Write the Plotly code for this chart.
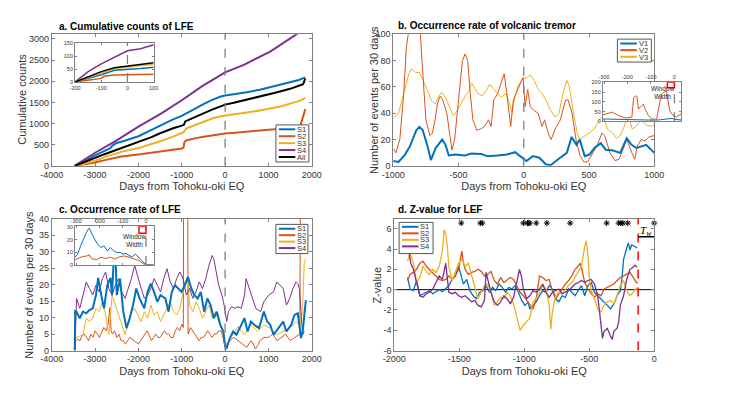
import plotly.graph_objects as go

W, H = 738, 399
BLUE = "#0072BD"
ORANGE = "#D95319"
YELLOW = "#EDB120"
PURPLE = "#7E2F8E"
BLACK = "#000000"
AXC = "#808080"
TXT = "#333333"
FONT = "Liberation Sans, Arial, Helvetica, sans-serif"

# ---------------- a. cumulative counts of LFE ----------------
a_s1_x = [-3470, -3200, -3000, -2800, -2650, -2600, -2500, -2300, -2000, -1700, -1500, -1200, -1000,
          -700, -500, -300, -100, 0, 200, 500, 800, 1000, 1200, 1500, 1700, 1850]
a_s1_y = [0, 130, 250, 350, 420, 480, 540, 600, 700, 850, 950, 1100, 1180,
          1360, 1460, 1560, 1640, 1660, 1690, 1740, 1800, 1850, 1890, 1970, 2030, 2090]
a_s2_x = [-3470, -3200, -3000, -2800, -2600, -2400, -2000, -1700, -1500, -1200, -1000, -960, -940, -900,
          -870, -700, -500, -300, -100, 0, 300, 500, 800, 1000, 1300, 1500, 1700, 1740, 1780, 1850]
a_s2_y = [0, 40, 80, 130, 180, 220, 270, 310, 340, 380, 410, 430, 560, 600,
          610, 650, 690, 720, 750, 762, 790, 810, 840, 860, 890, 900, 915, 960, 1100, 1340]
a_s3_x = [-3470, -3200, -3000, -2800, -2600, -2400, -2000, -1700, -1500, -1200, -1000, -950, -900,
          -700, -500, -300, -100, 0, 300, 500, 800, 1000, 1300, 1500, 1700, 1850]
a_s3_y = [0, 60, 120, 200, 270, 330, 420, 510, 580, 690, 780, 800, 880,
          960, 1050, 1120, 1170, 1188, 1230, 1260, 1310, 1350, 1410, 1470, 1530, 1600]
a_s4_x = [-3470, -3000, -2540, -2000, -1480, -1000, -520, 0, 445, 1040, 1670, 1850]
a_s4_y = [0, 310, 580, 926, 1236, 1550, 1891, 2210, 2393, 2701, 3125, 3240]
a_all_x = [-3470, -3200, -3000, -2800, -2500, -2200, -2000, -1700, -1500, -1200, -1000, -950, -920,
           -700, -500, -300, -100, 0, 200, 500, 800, 1000, 1200, 1500, 1700, 1800, 1850]
a_all_y = [0, 100, 190, 270, 380, 480, 560, 680, 770, 890, 950, 970, 1050,
           1140, 1240, 1330, 1420, 1447, 1490, 1560, 1630, 1690, 1740, 1820, 1890, 1930, 2060]

# inset of a
ia_x = [-200, -150, -100, -50, 0, 50, 100]
ia_s4 = [0, 40, 70, 95, 120, 128, 143]
ia_all = [0, 20, 40, 55, 62, 68, 74]
ia_s3 = [0, 18, 37, 52, 58, 63, 68]
ia_s1 = [0, 14, 28, 45, 48, 52, 57]
ia_s2_x = [-200, -150, -100, -90, -50, 0, 50, 100]
ia_s2 = [0, 8, 14, 22, 27, 28, 29, 30]

# ---------------- b. occurrence rate of volcanic tremor ----------------
b_v1_x = [-1000, -960, -910, -873, -824, -800, -774, -737, -712, -675, -625, -600, -575, -526, -450,
          -402, -327, -278, -203, -129, -67, -30, 20, 70, 119, 169, 206, 268, 330, 367, 404, 429,
          467, 504, 541, 590, 628, 677, 739, 789, 826, 864, 938, 1000]
b_v1_y = [3.7, 3, 8.6, 14.8, 27, 29.6, 27, 14.8, 4.4, 13.6, 20, 16, 7.9, 8.6, 7.9,
          9.4, 9.1, 7.4, 7.9, 8.6, 10.4, 7.4, 3.7, 7.4, 6.2, 1.2, 0.5, 5.4, 9.9, 22, 16, 20,
          7.4, 8.6, 13.6, 17.3, 12.3, 11.9, 9.9, 21, 16, 13.6, 16, 9.9]
b_v2_x = [-1000, -980, -950, -920, -900, -880, -860, -830, -800, -780, -750, -720, -700, -680, -660,
          -640, -620, -590, -570, -550, -530, -500, -470, -450, -430, -410, -390, -360, -330, -300,
          -270, -250, -230, -200, -170, -150, -130, -110, -100, -80, -60, -40, -20, -5, 10, 30, 50,
          80, 110, 140, 160, 190, 210, 240, 280, 320, 340, 370, 400, 430, 460, 490, 520, 560, 600,
          620, 660, 700, 730, 760, 790, 820, 850, 870, 900, 930, 960, 1000]
b_v2_y = [13, 10, 20, 55, 90, 110, 118, 108, 112, 80, 35, 23, 25, 35, 48,
          53, 50, 40, 25, 12, 20, 50, 80, 85, 80, 55, 35, 27, 28, 30,
          35, 30, 50, 55, 65, 70, 55, 38, 30, 50, 55, 60, 64, 67, 45, 58, 45,
          42, 40, 30, 35, 24, 20, 28, 35, 50, 50, 40, 20, 8, 3, 3, 8, 15, 25,
          23, 10, 4, 5, 12, 20, 12, 5, 15, 20, 19, 22, 23]
b_v3_x = [-1000, -960, -920, -880, -860, -830, -800, -770, -740, -710, -680, -650, -630, -600, -570,
          -540, -510, -480, -450, -420, -400, -380, -350, -320, -290, -260, -230, -200, -170, -140,
          -110, -90, -70, -40, -10, 20, 50, 80, 110, 140, 170, 200, 240, 270, 300, 330, 350, 380,
          410, 430, 460, 500, 540, 580, 610, 640, 680, 710, 740, 770, 800, 830, 860, 900, 940, 980, 1000]
b_v3_y = [36, 40, 55, 70, 74, 71, 71, 65, 58, 50, 47, 53, 56, 52, 45,
          38, 42, 48, 53, 57, 63, 60, 55, 53, 57, 62, 58, 55, 52, 55,
          48, 40, 52, 62, 66, 67, 69, 65, 58, 55, 50, 43, 37, 40, 55, 65, 60, 40,
          25, 20, 22, 25, 28, 35, 38, 28, 25, 21, 23, 30, 40, 28, 30, 35, 31, 30, 31]

# inset of b
ib_v2_x = [-305, -286, -265, -244, -223, -202, -181, -174, -167, -160, -153, -139, -132, -125, -111,
           -97, -76, -62, -55, -48, -34, -20, -6, 8, 29]
ib_v2_y = [33, 38, 47, 33, 22, 17, 22, 122, 130, 128, 63, 80, 88, 63, 30,
           13, 10, 97, 138, 147, 155, 55, 30, 22, 38]
ib_v1_x = [-305, -280, -250, -220, -200, -180, -150, -120, -100, -80, -60, -40, -20, -10, 0, 15, 29]
ib_v1_y = [12, 11, 10, 9, 8, 9, 8, 7, 5, 6, 8, 10, 14, 15, 10, 8, 7]

# ---------------- c. occurrence rate of LFE ----------------
c_s1_x = [-3470, -3460, -3430, -3355, -3280, -3205, -3130, -3055, -2980, -2930,
          -2870, -2795, -2720, -2645, -2610, -2570, -2535, -2500, -2425, -2350,
          -2275, -2200, -2125, -2050, -1975, -1865, -1790, -1715, -1640, -1565,
          -1490, -1380, -1305, -1230, -1155, -1080, -1006, -930, -857, -780,
          -710, -633, -560, -484, -410, -335, -261, -190, -112, -40,
          0, 37, 112, 186, 260, 373, 447, 520, 596, 670,
          782, 894, 970, 1040, 1118, 1230, 1341, 1415, 1527, 1600,
          1677, 1751, 1790, 1863]
c_s1_y = [0, 12, 11.8, 9.8, 11.8, 11.3, 12.3, 12.8, 16.8, 22,
          17.5, 12.8, 19.8, 22, 16.8, 27.8, 31, 16.8, 21.8, 11.8,
          6.8, 9.8, 13.8, 18.8, 15.8, 12.8, 17.8, 20.3, 17.8, 14.8,
          16.8, 15.8, 11.8, 17.8, 19.8, 18.8, 17.8, 19.8, 22.3, 18.8,
          16.8, 15.8, 17.8, 11.8, 15.8, 13.8, 9.8, 11.8, 7.8, 5.8,
          1.3, 0.8, 3.8, 5.8, 4.8, 7.8, 9.8, 5.8, 8.8, 7.8,
          6.8, 11.8, 8.8, 7.8, 4.8, 6.8, 8.8, 5.8, 7.8, 10.8,
          11.3, 3.8, 5.8, 15.3]
c_s2_x = [-3470, -3450, -3400, -3350, -3300, -3250, -3200, -3150, -3100, -3050,
          -3000, -2950, -2900, -2850, -2800, -2750, -2700, -2660, -2630, -2600,
          -2550, -2500, -2450, -2400, -2350, -2300, -2250, -2200, -2150, -2100,
          -2050, -2000, -1950, -1900, -1850, -1800, -1750, -1700, -1650, -1600,
          -1550, -1500, -1450, -1400, -1350, -1300, -1250, -1200, -1150, -1100,
          -1050, -1000, -965, -955, -865, -855, -800, -750, -700, -650,
          -600, -550, -500, -450, -400, -350, -300, -250, -200, -150,
          -100, -50, 0, 50, 100, 150, 200, 250, 300, 350,
          400, 450, 500, 550, 600, 650, 700, 750, 800, 850,
          900, 950, 1000, 1050, 1100, 1150, 1200, 1250, 1300, 1350,
          1400, 1450, 1500, 1550, 1600, 1650, 1700, 1725, 1740, 1850]
c_s2_y = [0, 3, 3.5, 3, 4.5, 5, 4, 3, 5, 4,
          6, 5, 4, 5.5, 7, 6, 8, 13, 6, 5,
          6, 4, 5, 3, 3, 2, 3, 4, 3.5, 3,
          2.5, 2, 3, 4, 5, 6, 4.5, 3, 4, 5,
          4, 4, 5, 6, 5, 5, 4, 4, 6, 7,
          6, 8, 7, 60, 60, 5, 7, 6, 5, 4,
          3, 4, 4, 5, 6, 5, 4, 5, 5, 6,
          6, 4, 1, 2, 3, 3.5, 4, 3.5, 3, 2.5,
          2, 1.5, 1, 2, 3, 2, 0.5, 1.5, 3, 3.5,
          4, 4, 4, 4.5, 5, 4, 3, 3.5, 4, 4.5,
          5, 4, 3, 3.5, 4, 4.5, 5, 5, 60, 120]
c_s3_x = [-3465, -3391, -3279, -3204, -3130, -3055, -2981, -2906, -2832, -2757,
          -2683, -2608, -2534, -2459, -2385, -2310, -2236, -2161, -2087, -2012,
          -1938, -1863, -1788, -1714, -1639, -1565, -1490, -1416, -1341, -1267,
          -1192, -1118, -1043, -969, -894, -857, -820, -745, -671, -596,
          -522, -447, -373, -298, -224, -149, -75, 0, 75, 149,
          224, 298, 447, 596, 745, 894, 1043, 1192, 1341, 1490,
          1639, 1714, 1788, 1826, 1863]
c_s3_y = [3.8, 4.3, 4.8, 9.8, 8.8, 9.8, 12.8, 11.8, 14.8, 10.8,
          4.8, 16.8, 13.8, 10.8, 7.8, 4.8, 8.8, 11.8, 12.8, 10.8,
          8.8, 11.8, 9.8, 13.8, 10.8, 11.8, 8.8, 10.8, 12.8, 14.8,
          11.8, 10.8, 12.8, 17.8, 20.8, 22.3, 13.8, 11.8, 14.8, 12.8,
          9.8, 11.8, 13.8, 9.8, 11.8, 8.8, 6.8, 1.8, 2.8, 4.8,
          5.8, 7.3, 4.8, 7.8, 5.8, 7.8, 6.8, 4.8, 5.8, 6.8,
          8.8, 7.8, 11.8, 26.8, 27.8]
c_s4_x = [-3465, -3428, -3353, -3279, -3204, -3130, -3055, -2981, -2906, -2832,
          -2757, -2683, -2608, -2534, -2459, -2385, -2310, -2236, -2161, -2087,
          -2012, -1938, -1863, -1788, -1714, -1639, -1565, -1490, -1416, -1341,
          -1267, -1192, -1118, -1043, -969, -894, -820, -745, -671, -596,
          -522, -447, -373, -298, -261, -224, -149, -75, -37, 0,
          37, 75, 149, 224, 298, 373, 447, 484, 559, 633,
          708, 820, 894, 1006, 1118, 1192, 1267, 1341, 1416, 1490,
          1565, 1639, 1677, 1714, 1751, 1788, 1826]
c_s4_y = [0, 15.8, 12.8, 16.8, 20.8, 18.8, 16.8, 19.8, 17.8, 21.8,
          23.8, 18.8, 16.8, 19.8, 21.8, 17.8, 15.8, 18.8, 21.8, 25.8,
          21.8, 18.8, 15.8, 16.8, 18.8, 21.8, 19.8, 17.8, 21.8, 24.8,
          20.8, 18.8, 21.8, 23.8, 21.8, 16.8, 18.8, 15.8, 17.8, 20.8,
          18.8, 21.8, 25.8, 28.8, 27.8, 24.8, 19.8, 16.8, 14.8, 11.8,
          8.8, 11.8, 13.3, 12.8, 13.3, 12.8, 16.8, 21.8, 18.8, 15.8,
          12.8, 11.8, 14.8, 16.8, 17.8, 20.8, 19.8, 18.8, 13.8, 15.8,
          18.8, 20.8, 20.3, 18.8, 11.8, 4.8, 5.8]

# inset of c
ic_s1_x = [-305, -294, -281, -267, -254, -244, -234, -220, -207, -193,
           -180, -166, -153, -139, -126, -112, -99, -85, -72, -58,
           -45, -31, -18, -4, 0, 33]
ic_s1_y = [6, 8.5, 15, 21.5, 26.6, 29, 25, 20, 16, 13.7,
           15, 11, 13.7, 11, 9.8, 9.8, 8.5, 9, 7.2, 6.5,
           8.5, 6, 3.4, 0.8, 0, 0]
ic_s2_x = [-305, -294, -274, -254, -244, -234, -214, -193, -173, -153,
           -132, -112, -92, -72, -51, -31, -11, 0, 33]
ic_s2_y = [4, 5, 6.5, 7, 8, 5, 4, 6, 5, 6,
           4.7, 6.5, 7, 6, 4.7, 3.4, 0.8, 0, 0]

# ---------------- d. Z-value for LEF ----------------
d_s1_x = [-1898, -1878, -1853, -1828, -1803, -1779, -1754, -1729, -1704, -1679,
          -1654, -1629, -1604, -1580, -1555, -1530, -1505, -1493, -1468, -1443,
          -1418, -1393, -1368, -1343, -1318, -1294, -1269, -1244, -1219, -1194,
          -1169, -1144, -1119, -1095, -1070, -1045, -1020, -995, -970, -958,
          -933, -908, -883, -858, -833, -808, -784, -759, -734, -709,
          -684, -659, -634, -609, -585, -560, -535, -510, -485, -460,
          -435, -410, -386, -361, -336, -311, -286, -261, -249, -236,
          -216, -199, -187, -174, -149, -132]
d_s1_y = [1.2, 0.06, -0.1, 0.9, -0.6, -0.4, -0.26, -0.1, -0.4, -0.2,
          0, -0.2, 0.13, 0.4, 1, 1.35, 2.3, 1.7, 0.55, 1,
          -0.1, -0.6, -0.9, -0.26, -0.1, 0.4, -0.26, 0.23, -0.1, 0.55,
          0.23, -0.26, 0.23, 0.06, 0.4, -0.26, -1.06, -1.55, -1.2, -1.9,
          -1.55, -1.2, -0.6, -0.1, -0.26, 0.4, 0.06, -0.9, -1.2, -0.6,
          -0.75, 0.06, -0.26, -0.6, -0.1, 0.4, -0.6, 0.4, 0.7, -0.26,
          -0.6, -0.9, -1.2, -1.55, -1.9, -1.4, -0.6, -0.1, 1, 3,
          3.9, 4.6, 3.9, 4.4, 4.25, 4.1]
d_s2_x = [-1898, -1878, -1853, -1828, -1803, -1779, -1754, -1729, -1704, -1679,
          -1654, -1629, -1604, -1580, -1555, -1530, -1505, -1480, -1468, -1455,
          -1430, -1405, -1380, -1356, -1331, -1306, -1281, -1256, -1231, -1206,
          -1182, -1157, -1132, -1107, -1082, -1057, -1032, -1007, -983, -958,
          -933, -908, -883, -858, -833, -808, -784, -759, -734, -709,
          -684, -659, -634, -609, -585, -572, -560, -535, -510, -485,
          -460, -435, -410, -386, -361, -336, -311, -286, -261, -236,
          -212, -187, -162, -137, -124]
d_s2_y = [0.9, 1.5, 1.7, 2, 2.6, 2.8, 2.3, 2, 1.7, 1.35,
          1, 0.9, 1, 1.35, 1, 1.35, 2, 3.8, 2.6, 2,
          1.5, 1.7, 1.8, 2, 1.8, 1.35, 1.5, 1.8, 0.9, 0.55,
          1.2, 0.7, 1, 1.2, 1, 0.4, -0.26, -0.6, -1.06, -1.55,
          -1.9, -0.9, 1.35, 1.2, 0.9, 1, -0.1, -0.9, -0.4, 0.06,
          0.55, 0.9, 1.35, 2, 2.3, 2.6, 2.2, 0.7, 0.06, -0.4,
          -0.75, -0.4, -0.6, 0.06, 0.23, 0.4, 0.55, 0.9, 1.2, 1.35,
          1.5, 1.7, 1.2, 0.7, 0.7]
d_s3_x = [-1898, -1878, -1853, -1828, -1803, -1779, -1754, -1729, -1704, -1679,
          -1654, -1629, -1617, -1604, -1592, -1580, -1555, -1530, -1505, -1480,
          -1455, -1430, -1405, -1380, -1356, -1331, -1306, -1281, -1256, -1231,
          -1206, -1182, -1157, -1132, -1107, -1082, -1057, -1032, -1007, -983,
          -958, -933, -908, -883, -858, -833, -808, -796, -784, -759,
          -734, -709, -684, -660, -634, -609, -585, -560, -535, -523,
          -510, -498, -485, -460, -435, -411, -386, -361, -336, -311,
          -286, -261, -236, -212, -187, -162, -137, -124]
d_s3_y = [2.8, 3.6, 2.6, 0.7, 1.2, 2.3, 1.8, 1.5, 2, 1.7,
          2.3, 3.9, 5.9, 5.5, 4.3, 2.3, 0.9, 1.8, 2.6, 3,
          2.3, 2.6, 1.35, 0.06, -0.9, -0.26, 0.4, 0.55, -0.26, -1.55,
          -1.2, -0.75, -0.9, -0.26, -0.6, -1.4, -2.7, -4, -3.5, -3.2,
          -2.8, -1.2, -0.9, -0.26, 0.4, 0.06, -1.55, -3.9, -2.2, -0.6,
          -0.26, -0.4, 0.06, 0.4, 0.7, 1.2, 1.7, 2.3, 4.25, 4.8,
          3.3, 1, -0.1, -0.9, -1.9, -2.2, -1.55, -1.2, -1.06, -1.4,
          -0.6, 0.4, 0.9, -0.1, -0.6, -0.26, 0.2, -0.26]
d_s4_x = [-1898, -1873, -1853, -1828, -1803, -1779, -1754, -1729, -1704, -1679,
          -1654, -1629, -1604, -1580, -1555, -1530, -1505, -1480, -1455, -1430,
          -1405, -1380, -1356, -1331, -1306, -1294, -1281, -1256, -1231, -1206,
          -1182, -1157, -1132, -1107, -1082, -1057, -1037, -1020, -1007, -983,
          -958, -933, -908, -883, -858, -833, -808, -784, -759, -734,
          -709, -684, -660, -634, -609, -585, -560, -535, -510, -485,
          -460, -435, -423, -411, -398, -386, -361, -336, -323, -311,
          -286, -274, -261, -236, -212, -187, -162, -149, -132]
d_s4_y = [4.6, 2.6, 2, 0.7, -0.6, -0.75, -0.4, -0.26, 0.06, 0.7,
          1.35, 1, 2.6, -0.26, -0.4, -0.26, -0.6, -0.75, -0.6, -0.9,
          -1.2, -1.06, -1.55, -1.7, -1.06, 1.7, 1, -0.26, -1.2, -1.55,
          -1.2, -0.6, -0.9, -1.4, -0.75, 1, 2, 1.2, 0.06, -0.9,
          -0.6, -0.1, -0.26, 0.06, 0.55, -0.26, -0.75, -0.26, -0.1, 0.06,
          -0.4, -0.26, -0.1, 0.23, 0.55, 0.7, 0.9, 0.7, 0.9, 1,
          0.55, -0.6, -2.2, -3.5, -4.8, -4.1, -3.8, -4.6, -4.9, -4.1,
          -3.8, -3.2, -1.55, -0.6, 1, 2, 2.2, 2.4, 2.2]
d_star_x = [-1485, -1338, -1323, -1007, -975, -966, -958, -908, -826, -647, -366, -274, -256, -241, -204, 0]
d_star_level = 6.55
d_tw = -124  # start of the window T_w

tick_a_x = [-4000, -3000, -2000, -1000, 0, 1000, 2000]
tick_a_y = [0, 500, 1000, 1500, 2000, 2500, 3000]
tick_b_x = [-1000, -500, 0, 500, 1000]
tick_b_y = [0, 20, 40, 60, 80, 100]
tick_c_y = [0, 5, 10, 15, 20, 25, 30, 35, 40]
tick_d_x = [-2000, -1500, -1000, -500, 0]
tick_d_y = [-6, -4, -2, 0, 2, 4, 6]


def fx(px):
    return px / W


def fy(py):
    return 1 - py / H


fig = go.Figure()


def line(x, y, ax, color, width, name):
    fig.add_trace(go.Scatter(x=x, y=y, mode="lines", name=name, showlegend=False,
                             line=dict(color=color, width=width),
                             xaxis="x" + ax, yaxis="y" + ax, hoverinfo="skip"))


# panel a
line(a_s1_x, a_s1_y, "", BLUE, 2, "S1")
line(a_s2_x, a_s2_y, "", ORANGE, 2, "S2")
line(a_s3_x, a_s3_y, "", YELLOW, 2, "S3")
line(a_s4_x, a_s4_y, "", PURPLE, 2, "S4")
line(a_all_x, a_all_y, "", BLACK, 2, "All")
# panel b
line(b_v3_x, b_v3_y, "2", YELLOW, 1, "V3")
line(b_v2_x, b_v2_y, "2", ORANGE, 1, "V2")
line(b_v1_x, b_v1_y, "2", BLUE, 2, "V1")
# panel c
line(c_s2_x, c_s2_y, "3", ORANGE, 1, "S2")
line(c_s3_x, c_s3_y, "3", YELLOW, 1, "S3")
line(c_s4_x, c_s4_y, "3", PURPLE, 1, "S4")
line(c_s1_x, c_s1_y, "3", BLUE, 2, "S1")
# panel d
line(d_s1_x, d_s1_y, "4", BLUE, 1.3, "S1")
line(d_s2_x, d_s2_y, "4", ORANGE, 1.3, "S2")
line(d_s3_x, d_s3_y, "4", YELLOW, 1.3, "S3")
line(d_s4_x, d_s4_y, "4", PURPLE, 1.3, "S4")
fig.add_trace(go.Scatter(x=d_star_x, y=[d_star_level] * len(d_star_x), mode="markers",
                         showlegend=False, hoverinfo="skip", xaxis="x4", yaxis="y4", cliponaxis=False,
                         marker=dict(symbol="asterisk-open", size=5, color=BLACK,
                                     line=dict(width=1, color=BLACK))))
# insets
line(ia_x, ia_s1, "5", BLUE, 1.5, "S1")
line(ia_s2_x, ia_s2, "5", ORANGE, 1.5, "S2")
line(ia_x, ia_s3, "5", YELLOW, 1.5, "S3")
line(ia_x, ia_s4, "5", PURPLE, 1.5, "S4")
line(ia_x, ia_all, "5", BLACK, 1.5, "All")
line(ib_v1_x, ib_v1_y, "6", BLUE, 1, "V1")
line(ib_v2_x, ib_v2_y, "6", ORANGE, 1, "V2")
line(ic_s2_x, ic_s2_y, "7", ORANGE, 1, "S2")
line(ic_s1_x, ic_s1_y, "7", BLUE, 1, "S1")


def axis(domain, rng, anchor, tickvals, size=9, ticklen=3, side=None, title=None):
    d = dict(domain=domain, range=rng, anchor=anchor, showline=True, linecolor=AXC, linewidth=1,
             mirror="ticks", ticks="inside", ticklen=ticklen, tickcolor=AXC, tickwidth=1,
             showgrid=False, zeroline=False, fixedrange=True,
             tickvals=tickvals, ticktext=[str(v) for v in tickvals],
             tickfont=dict(size=size, color=TXT, family=FONT))
    if side:
        d["side"] = side
    if title:
        d["title"] = dict(text=title, font=dict(size=11, color=TXT, family=FONT), standoff=3)
    return d


XT = "Days from Tohoku-oki EQ"
YR = "Number of events per 30 days"
left = [fx(41), fx(309)]
right = [fx(393), fx(662)]
top = [fy(165), fy(30)]
bot = [fy(354.5), fy(219)]

fig.update_layout(
    xaxis=axis(left, [-4000, 2000], "y", tick_a_x, title=XT),
    yaxis=axis(top, [0, 3110], "x", tick_a_y),
    xaxis2=axis(right, [-1000, 1000], "y2", tick_b_x, title=XT),
    yaxis2=axis(top, [0, 100], "x2", tick_b_y),
    xaxis3=axis(left, [-4000, 2000], "y3", tick_a_x, title=XT),
    yaxis3=axis(bot, [0, 40], "x3", tick_c_y),
    xaxis4=axis([fx(394), fx(662)], [-2000, 0], "y4", tick_d_x, title=XT),
    yaxis4=axis(bot, [-6, 7], "x4", tick_d_y),
    xaxis5=axis([fx(65), fx(146)], [-200, 100], "y5", [-200, -100, 0, 100], size=5.5, ticklen=2),
    yaxis5=axis([fy(79), fy(39)], [0, 150], "x5", [0, 50, 100, 150], size=5.5, ticklen=2),
    xaxis6=axis([fx(609), fx(690)], [-305, 30], "y6", [-300, -200, -100, 0], size=5.5, ticklen=2, side="top"),
    yaxis6=axis([fy(119.3), fy(79.3)], [0, 200], "x6", [0, 50, 100, 150, 200], size=5.5, ticklen=2),
    xaxis7=axis([fx(65), fx(146)], [-305, 33], "y7", [-300, -200, -100, 0], size=5.5, ticklen=2, side="top"),
    yaxis7=axis([fy(266.5), fy(227)], [0, 30.5], "x7", [0, 10, 20, 30], size=5.5, ticklen=2),
)

shapes = []
# white backgrounds of the insets, inside each inset subplot
for ax, (x0, x1, y0, y1) in [("5", (-200, 100, 0, 150)), ("6", (-305, 30, 0, 200)), ("7", (-305, 33, 0, 30.5))]:
    shapes.append(dict(type="rect", xref="x" + ax, yref="y" + ax, x0=x0, x1=x1, y0=y0, y1=y1,
                       fillcolor="white", line=dict(width=0), layer="below"))
# dashed line at the earthquake
for ax, ymax in [("", 3110), ("2", 100), ("3", 40), ("5", 150), ("6", 200), ("7", 30.5)]:
    shapes.append(dict(type="line", xref="x" + ax, yref="y" + ax, x0=0, x1=0, y0=0, y1=ymax,
                       line=dict(color="#7f7f7f", width=1.3, dash="dash"), layer="above"))
# window width boxes
shapes.append(dict(type="rect", xref="x6", yref="y6", x0=-30, x1=0, y0=172, y1=200,
                   line=dict(color="#FF0000", width=1.5), layer="above"))
shapes.append(dict(type="rect", xref="x7", yref="y7", x0=-30, x1=0, y0=25, y1=30.5,
                   line=dict(color="#FF0000", width=1.5), layer="above"))
# panel d helpers
shapes.append(dict(type="line", xref="x4", yref="y4", x0=-2000, x1=0, y0=0, y1=0,
                   line=dict(color=BLACK, width=1), layer="below"))
shapes.append(dict(type="line", xref="x4", yref="y4", x0=d_tw, x1=d_tw, y0=-6, y1=7,
                   line=dict(color="#FF0000", width=1.5, dash="dash"), layer="above"))
shapes.append(dict(type="line", xref="x4", yref="y4", x0=d_tw, x1=0, y0=5.2, y1=5.2,
                   line=dict(color=BLACK, width=1.5), layer="above"))

annotations = []


def title(px, py, text):
    annotations.append(dict(xref="paper", yref="paper", x=fx(px), y=fy(py), text="<b>%s</b>" % text,
                            showarrow=False, xanchor="left", yanchor="middle",
                            font=dict(size=10, color="#000000", family=FONT)))


def ytitle(px, py, text):
    annotations.append(dict(xref="paper", yref="paper", x=fx(px), y=fy(py), text=text, textangle=-90,
                            showarrow=False, xanchor="center", yanchor="middle",
                            font=dict(size=11, color=TXT, family=FONT)))


title(46, 22, "a. Cumulative counts of LFE")
title(396, 21, "b. Occurrence rate of volcanic tremor")
title(46, 210, "c. Occurrence rate of LFE")
title(396, 210, "d. Z-value for LEF")
ytitle(9.5, 97, "Cumulative counts")
ytitle(372.5, 97, YR)
ytitle(17.5, 287, YR)
ytitle(376, 287, "Z-value")


def legend(box, names, colors, step):
    # hand-made compact legend: frame, line samples and one text block
    x0, y0, x1, y1 = box
    shapes.append(dict(type="rect", xref="paper", yref="paper", x0=fx(x0), x1=fx(x1), y0=fy(y1), y1=fy(y0),
                       fillcolor="white", line=dict(color="#555555", width=1), layer="above"))
    for i, c in enumerate(colors):
        yy = y0 + 4.5 + i * step
        shapes.append(dict(type="line", xref="paper", yref="paper", x0=fx(x0 + 3), x1=fx(x0 + 20),
                           y0=fy(yy), y1=fy(yy), line=dict(color=c, width=2), layer="above"))
    ymid = y0 + 4.5 + (len(names) - 1) * step / 2
    text = "<br>".join('<span style="font-size:7.5px">%s</span>' % n for n in names)
    annotations.append(dict(xref="paper", yref="paper", x=fx(x0 + 21), y=fy(ymid), text=text,
                            showarrow=False, xanchor="left", yanchor="middle", align="left", borderpad=0,
                            font=dict(size=step / 1.3, color=TXT, family=FONT)))


legend((272, 123, 306, 161), ["S1", "S2", "S3", "S4", "All"], [BLUE, ORANGE, YELLOW, PURPLE, BLACK], 7.1)
legend((624, 35, 659, 58.5), ["V1", "V2", "V3"], [BLUE, ORANGE, YELLOW], 6.8)
legend((272, 225, 305, 255), ["S1", "S2", "S3", "S4"], [BLUE, ORANGE, YELLOW, PURPLE], 6.6)
legend((399, 223, 434, 255), ["S1", "S2", "S3", "S4"], [BLUE, ORANGE, YELLOW, PURPLE], 6.7)

for ax, xx, yy in [("6", -52, 150), ("7", -48, 19)]:
    annotations.append(dict(xref="x" + ax, yref="y" + ax, x=xx, y=yy, text="Window<br>Width",
                            showarrow=False, font=dict(size=6.5, color="#222222", family=FONT)))
annotations.append(dict(xref="x4", yref="y4", x=-62, y=5.75, text="<i>T</i><sub><i>w</i></sub>",
                        showarrow=False, font=dict(size=11, color="#000000", family="Liberation Serif, serif")))

fig.update_layout(shapes=shapes, annotations=annotations, width=W, height=H, autosize=False,
                  margin=dict(l=0, r=0, t=0, b=0), paper_bgcolor="white", plot_bgcolor="white",
                  font=dict(family=FONT, color=TXT), showlegend=False)

# page body has a default 8px margin; drop it so the figure fills the window exactly
fig.write_html("out.html", config={"displayModeBar": False},
               post_script="document.body.style.margin='0';document.body.style.overflow='hidden';")
